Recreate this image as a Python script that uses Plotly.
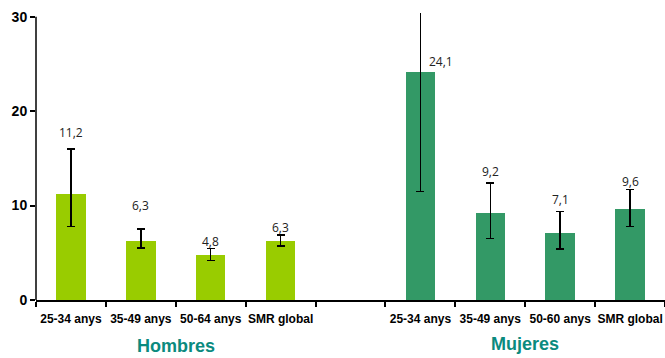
import plotly.graph_objects as go

# ---- data ----
age_groups_h = ["25-34 anys", "35-49 anys", "50-64 anys", "SMR global"]
age_groups_m = ["25-34 anys", "35-49 anys", "50-60 anys", "SMR global"]
smr_h = [11.2, 6.3, 4.8, 6.3]
low_h = [7.8, 5.5, 4.2, 5.7]
high_h = [16.0, 7.5, 5.45, 6.9]
smr_m = [24.1, 9.2, 7.1, 9.6]
low_m = [11.5, 6.5, 5.4, 7.8]
high_m = [38.0, 12.4, 9.4, 11.7]
labels_h = ["11,2", "6,3", "4,8", "6,3"]
labels_m = ["24,1", "9,2", "7,1", "9,6"]
group_names = ["Hombres", "Mujeres"]

# layout helpers (positions)
x_h = list(range(len(age_groups_h)))
x_m = [len(age_groups_h) + 1 + i for i in range(len(age_groups_m))]
label_y_h = [17.7, 10.0, 6.2, 7.7]
label_y_m = [25.3, 13.6, 10.6, 12.5]
label_dx_m = [0.3, 0, 0, 0]

fig = go.Figure()

def add_bars(xs, vals, lo, hi, color):
    fig.add_trace(go.Bar(
        x=xs, y=vals, width=0.42, marker=dict(color=color, line=dict(width=0)),
        error_y=dict(type="data", symmetric=False,
                     array=[h - v for h, v in zip(hi, vals)],
                     arrayminus=[v - l for v, l in zip(vals, lo)],
                     color="#000000", thickness=1.5, width=4),
        showlegend=False, hoverinfo="skip"))

add_bars(x_h, smr_h, low_h, high_h, "#99cc00")
add_bars(x_m, smr_m, low_m, high_m, "#339966")

for x, y, t in zip(x_h, label_y_h, labels_h):
    fig.add_annotation(x=x, y=y, text=t, showarrow=False,
                       font=dict(family="Open Sans, Arial", size=12, color="#222222"))
for x, y, t, dx in zip(x_m, label_y_m, labels_m, label_dx_m):
    fig.add_annotation(x=x + dx, y=y, text=t, showarrow=False,
                       font=dict(family="Open Sans, Arial", size=12, color="#222222"))

group_x = [sum(x_h) / len(x_h), sum(x_m) / len(x_m)]
group_y = [-0.162, -0.155]
for gx, gy, name in zip(group_x, group_y, group_names):
    fig.add_annotation(x=gx, y=gy, xref="x", yref="paper", text="<b>" + name + "</b>",
                       showarrow=False, yanchor="middle",
                       font=dict(family="Liberation Sans, Arial", size=18, color="#0b8a7e"))

# y axis line up to 30 only
fig.add_shape(type="line", xref="paper", yref="y", x0=0, x1=0, y0=0, y1=30,
              line=dict(color="#000000", width=1.5))

all_x = x_h + x_m
all_labels = age_groups_h + age_groups_m
n_slots = len(age_groups_h) + 1 + len(age_groups_m)

fig.update_layout(
    width=665, height=358,
    margin=dict(l=36, r=0, t=13, b=58),
    plot_bgcolor="white", paper_bgcolor="white",
    bargap=0,
    xaxis=dict(range=[-0.5, n_slots - 0.5], tickmode="array", tickvals=all_x,
               ticktext=["<b>" + t + "</b>" for t in all_labels],
               ticks="", showgrid=False, zeroline=False,
               showline=True, linecolor="#000000", linewidth=1.5,
               ticklabelstandoff=7,
               tickfont=dict(family="Liberation Sans, Arial", size=12, color="#000000"),
               minor=dict(tickmode="array", tickvals=[i - 0.5 for i in range(n_slots + 1)],
                          ticks="outside", ticklen=5, tickcolor="#000000", tickwidth=1.5,
                          showgrid=False)),
    yaxis=dict(range=[0, 30.4], tickmode="array", tickvals=[0, 10, 20, 30],
               ticktext=["<b>0</b>", "<b>10</b>", "<b>20</b>", "<b>30</b>"],
               ticks="outside", ticklen=5, tickcolor="#000000", tickwidth=1.5,
               showgrid=False, zeroline=False, showline=False,
               tickfont=dict(family="Liberation Sans, Arial", size=14, color="#000000")),
)

fig.write_html("out.html")
